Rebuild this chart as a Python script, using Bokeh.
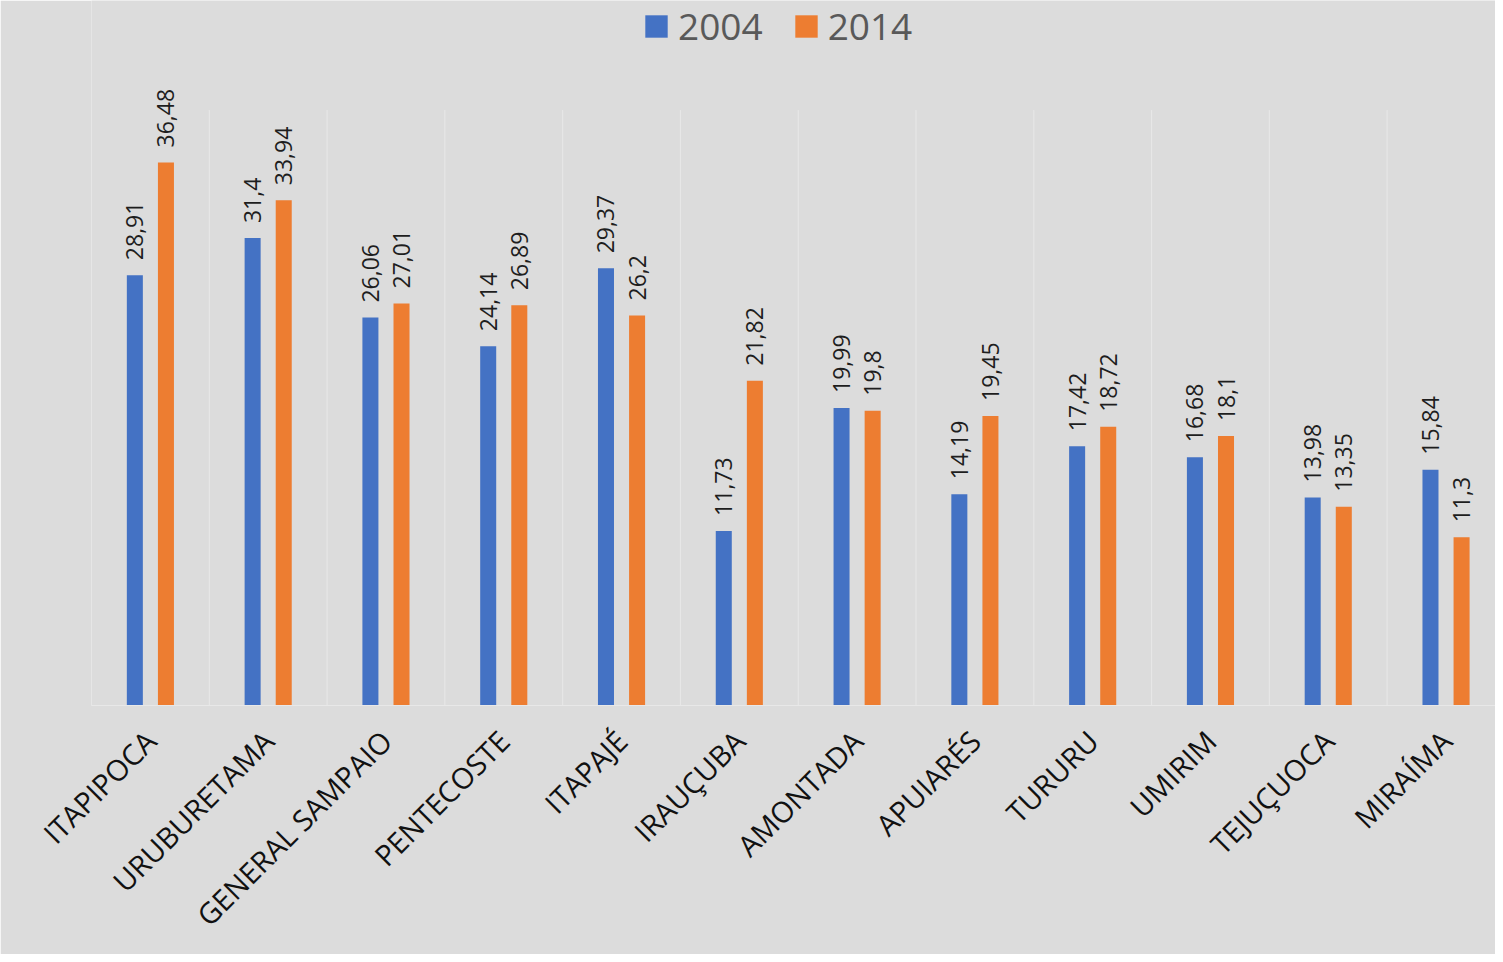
from math import pi
from bokeh.plotting import figure
from bokeh.models import ColumnDataSource, Range1d, FixedTicker, Legend, LegendItem
from bokeh.transform import dodge
from bokeh.core.properties import value
from bokeh.embed import file_html
from bokeh.resources import INLINE

categories = ["ITAPIPOCA", "URUBURETAMA", "GENERAL SAMPAIO", "PENTECOSTE", "ITAPAJÉ",
              "IRAUÇUBA", "AMONTADA", "APUIARÉS", "TURURU", "UMIRIM", "TEJUÇUOCA", "MIRAÍMA"]
v2004 = [28.91, 31.4, 26.06, 24.14, 29.37, 11.73, 19.99, 14.19, 17.42, 16.68, 13.98, 15.84]
v2014 = [36.48, 33.94, 27.01, 26.89, 26.2, 21.82, 19.8, 19.45, 18.72, 18.1, 13.35, 11.3]
series = ["2004", "2014"]
colors = ["#4472C4", "#ED7D31"]

def fmt(v):
    return ("%g" % v).replace(".", ",")

n = len(categories)
xs = list(range(n))
src = ColumnDataSource(dict(
    x=xs, v2004=v2004, v2014=v2014,
    l2004=[fmt(v) for v in v2004], l2014=[fmt(v) for v in v2014],
))

BG = "#dcdcdc"
FONT = "Open Sans"
AXIS_MAX = 40

p = figure(width=1495, height=954, output_backend="svg", toolbar_location=None,
           x_range=Range1d(-0.5, 11.42), y_range=Range1d(0, 47.36),
           min_border_left=91, min_border_right=0, min_border_top=0, min_border_bottom=249)
p.background_fill_color = BG
p.border_fill_color = BG
p.outline_line_color = None
p.yaxis.visible = False
p.ygrid.visible = False
p.xgrid.visible = False

# category separator lines
bounds = [i - 0.5 for i in range(n + 1)]
p.segment(x0=bounds, y0=[0] * len(bounds), x1=bounds, y1=[AXIS_MAX] * len(bounds),
          line_color="#e8e8e8", line_width=1)

off = 0.132
w = 0.136
r1 = p.vbar(x=dodge("x", -off, range=p.x_range), top="v2004", width=w, source=src,
            fill_color=colors[0], line_color=None)
r2 = p.vbar(x=dodge("x", off, range=p.x_range), top="v2014", width=w, source=src,
            fill_color=colors[1], line_color=None)

for col, lab, o in [("v2004", "l2004", -off), ("v2014", "l2014", off)]:
    p.text(x=dodge("x", o, range=p.x_range), y=col, text=lab, source=src,
           angle=pi / 2, text_align="left", text_baseline="middle", y_offset=-15,
           text_font=value(FONT), text_font_size="23px", text_color="#1e1e1e")

ax = p.xaxis[0]
ax.ticker = FixedTicker(ticks=xs)
ax.major_label_overrides = {i: c for i, c in zip(xs, categories)}
ax.major_label_orientation = pi / 4
ax.major_label_text_font = FONT
ax.major_label_text_font_size = "29px"
ax.major_label_text_color = "#111111"
ax.major_label_standoff = 24
ax.major_tick_line_color = None
ax.minor_tick_line_color = None
ax.axis_line_color = "#e8e8e8"
ax.axis_line_width = 1

legend = Legend(items=[LegendItem(label=series[0], renderers=[r1]),
                       LegendItem(label=series[1], renderers=[r2])],
                orientation="horizontal", location=(551, 654),
                glyph_width=28, glyph_height=28, label_standoff=8, spacing=29,
                padding=0, margin=0, border_line_color=None, background_fill_alpha=0,
                label_text_font=FONT, label_text_font_size="37px",
                label_text_color="#595959", label_text_baseline="middle")
p.add_layout(legend, "center")

open("out.html", "w").write(file_html(p, INLINE))
